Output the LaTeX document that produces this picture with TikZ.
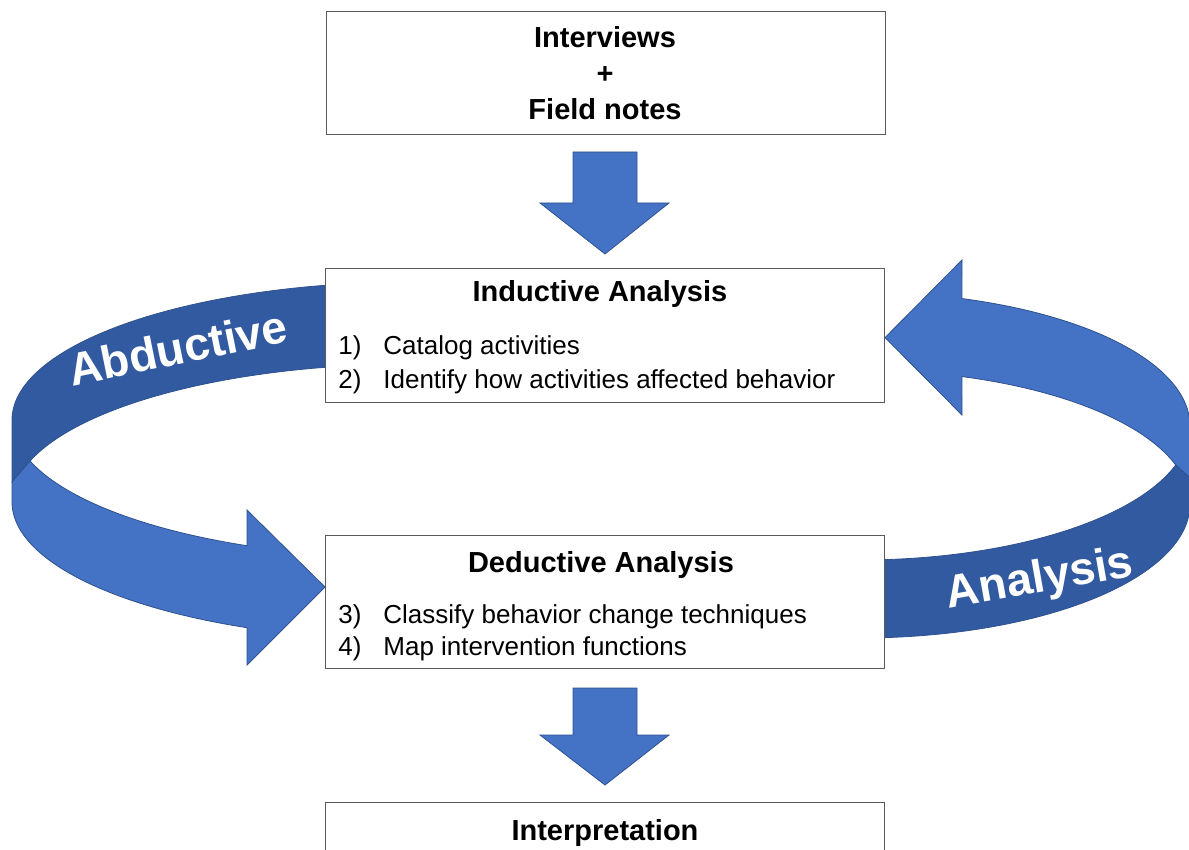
\documentclass[tikz,border=0pt]{standalone}
\usepackage{fontspec}
\setmainfont{Liberation Sans}
\definecolor{lblue}{RGB}{68,114,196}
\definecolor{dblue}{RGB}{50,90,160}
\definecolor{edgeblue}{RGB}{47,82,143}
\definecolor{bordergray}{RGB}{90,90,90}
\begin{document}
\begin{tikzpicture}[x=0.5pt,y=-0.5pt,
  box/.style={draw=bordergray, line width=0.7pt, fill=white, minimum width=279.5pt, inner sep=0pt, anchor=north west},
  ttl/.style={font=\fontsize{14.5}{18}\selectfont\bfseries, anchor=base, inner sep=0pt},
  itm/.style={font=\fontsize{13}{16}\selectfont, anchor=base west, inner sep=0pt},
  lightpart/.style={fill=lblue, draw=edgeblue, line width=0.4pt},
  darkpart/.style={fill=dblue, draw=edgeblue, line width=0.4pt},
  bigword/.style={font=\fontsize{23}{23}\selectfont\bfseries, text=white, anchor=base, inner sep=0pt}]
\useasboundingbox (0,0) rectangle (1189,850);
\clip (0,0) rectangle (1189,850);

% left circular arrow (Abductive)
\filldraw[darkpart] plot[domain=100:180, samples=80] ({412+400*cos(\x)},{420-138*sin(\x)})
  -- (12,482) -- (30,461)
  -- plot[domain=162.7:100, samples=80] ({412+400*cos(\x)},{502-138*sin(\x)}) -- cycle;
\filldraw[lightpart] (12,482) -- (30,461)
  -- plot[domain=162.7:114.36, samples=80] ({412+400*cos(\x)},{420+138*sin(\x)})
  -- (247,510) -- (325,587) -- (247,665)
  -- plot[domain=114.36:180, samples=80] ({412+400*cos(\x)},{502+138*sin(\x)}) -- cycle;

% right circular arrow (Analysis)
\filldraw[darkpart] (1190,478) -- (1176,465)
  -- plot[domain=-16.55:-94, samples=80] ({860+330*cos(\x)},{426-134*sin(\x)})
  -- plot[domain=-94:0, samples=80] ({860+330*cos(\x)},{504-134*sin(\x)}) -- cycle;
\filldraw[lightpart] (885,337.6) -- (962,260)
  -- plot[domain=72:0, samples=80] ({860+330*cos(\x)},{426-134*sin(\x)})
  -- (1190,478) -- (1176,465)
  -- plot[domain=16.55:72, samples=80] ({860+330*cos(\x)},{504-134*sin(\x)})
  -- (962,415) -- cycle;

% boxes
\node[box, minimum height=61.5pt] (src) at (326,11) {};
\node[box, minimum height=67pt] (ind) at (325,268) {};
\node[box, minimum height=66.5pt] (ded) at (325,535) {};
\node[box, minimum height=40pt] (interp) at (325,802) {};

% down arrows
\filldraw[lightpart] (573,152) -- (637,152) -- (637,203) -- (669,203) -- (605,254) -- (540,203) -- (573,203) -- cycle;
\filldraw[lightpart] (573,688) -- (637,688) -- (637,735) -- (669,735) -- (605,785) -- (540,735) -- (573,735) -- cycle;

% texts
\node[ttl] (t1) at (605,48) {Interviews};
\node[ttl] (t2) at (605,84) {+};
\node[ttl] (t3) at (605,120) {Field notes};

\node[ttl] (indt) at (600,302) {Inductive Analysis};
\node[itm] (n1) at (338,355) {1)};
\node[itm] (i1) at (383,355) {Catalog activities};
\node[itm] (n2) at (338,388) {2)};
\node[itm] (i2) at (383,388) {Identify how activities affected behavior};

\node[ttl] (dedt) at (601,572) {Deductive Analysis};
\node[itm] (n3) at (338,623) {3)};
\node[itm] (i3) at (383,623) {Classify behavior change techniques};
\node[itm] (n4) at (338,655) {4)};
\node[itm] (i4) at (383,655) {Map intervention functions};

\node[ttl] (intt) at (605,840) {Interpretation};

\node[bigword, rotate=11.5] (abd) at (181,364) {Abductive};
\node[bigword, rotate=10] (ana) at (1042,592) {Analysis};
\end{tikzpicture}
\end{document}
